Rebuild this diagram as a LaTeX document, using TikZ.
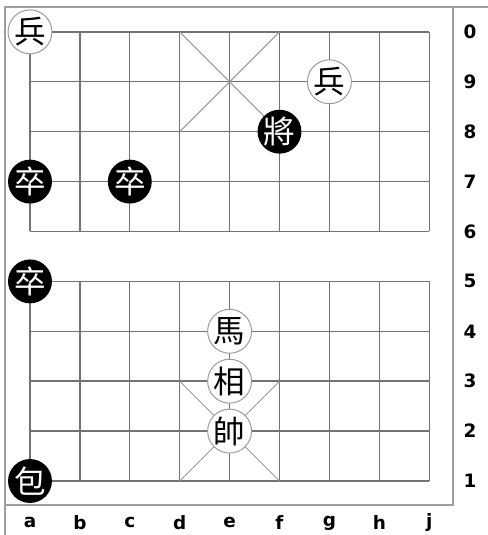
\documentclass[tikz,border=0pt]{standalone}
\usepackage{fontspec}
\setsansfont{DejaVu Sans}
\newfontfamily\cjk{Noto Sans CJK TC}
\tikzset{
    boardline/.style={black!55, line width=0.8pt},
    palaceline/.style={black!40, line width=0.55pt},
    frameline/.style={black!38, line width=1.1pt},
    piece/.style={circle, minimum size=0.88cm, inner sep=0pt,
        font=\cjk\fontsize{18}{18}\selectfont},
    redpiece/.style={piece, draw=black!40, line width=0.55pt, fill=white, text=black},
    blackpiece/.style={piece, fill=black, text=white},
    coordlabel/.style={font=\sffamily\bfseries\fontsize{10.5}{10.5}\selectfont}
}

\begin{document}
\begin{tikzpicture}
    \useasboundingbox (-0.601,-1.082) rectangle (9.178,9.639);
    % frame round the board and the labels
    \draw[frameline] (-0.501,-1.082) -- (-0.501,9.499) -- (9.178,9.499);
    \draw[frameline] (-0.501,-0.481) -- (8.477,-0.481) -- (8.477,9.499);
    % the two halves, river left open
    \foreach \y in {0,...,4} {
        \draw[boardline] (0,\y) -- (8,\y);
        \draw[boardline] (0,\y+5) -- (8,\y+5);
    }
    \foreach \x in {0,...,8} {
        \draw[boardline] (\x,0) -- (\x,4);
        \draw[boardline] (\x,5) -- (\x,9);
    }
    % palaces
    \draw[palaceline] (3,0) -- (5,2) (5,0) -- (3,2);
    \draw[palaceline] (3,7) -- (5,9) (5,7) -- (3,9);
    % files and ranks
    \foreach \f [count=\i from 0] in {a,...,h,j}
        \node[coordlabel] (file\f) at (\i,-0.84) {\f};
    \foreach \r [count=\i from 0] in {1,...,9,0}
        \node[coordlabel] (rank\r) at (8.82,\i) {\r};
    % pieces
    \node[redpiece] (pawnA) at (0,9) {兵};
    \node[redpiece] (pawnG) at (6,8) {兵};
    \node[blackpiece] (general) at (5,7) {將};
    \node[blackpiece] (soldierA) at (0,6) {卒};
    \node[blackpiece] (soldierC) at (2,6) {卒};
    \node[blackpiece] (soldierR) at (0,4) {卒};
    \node[blackpiece] (cannon) at (0,0) {包};
    \node[redpiece] (horse) at (4,3) {馬};
    \node[redpiece] (elephant) at (4,2) {相};
    \node[redpiece] (marshal) at (4,1) {帥};
\end{tikzpicture}
\end{document}
